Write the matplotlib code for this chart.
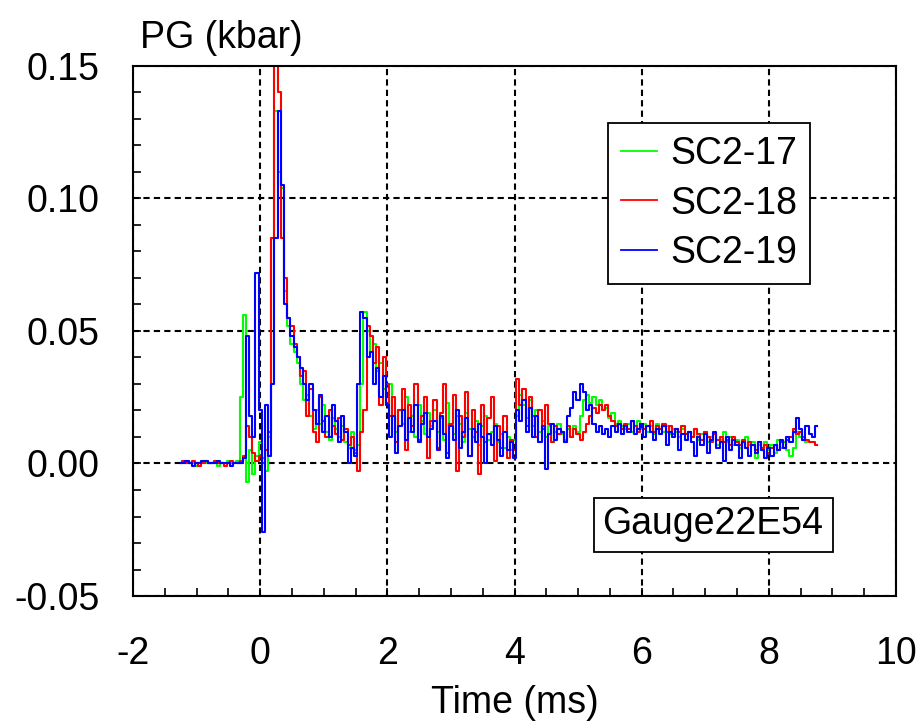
import numpy as np
import matplotlib
matplotlib.use("Agg")
import matplotlib.pyplot as plt
from matplotlib.ticker import MultipleLocator, FixedLocator, FuncFormatter

plt.rcParams['font.family'] = ['Liberation Sans', 'DejaVu Sans']
plt.rcParams['axes.unicode_minus'] = False

# sampling grid of the records (ms)
t_start = -1.25
t_step = 0.05

# pressure records, in 1e-3 kbar
sc2_17 = [
    0, 0, 1, 0, 0, -1, 0, 1, 0, 0, 0, 1, -1, 0, 0, 1, 0, 0, 1, 25,
    56, -7, 5, -4, 3, 8, 2, -3, 10, 85, 133, 110, 104, 65, 52, 45, 42, 38, 30, 24,
    26, 18, 13, 20, 15, 22, 12, 9, 17, 13, 10, 14, 8, 6, 12, 5, 7, 30, 57, 50,
    42, 45, 35, 38, 28, 22, 30, 18, 12, 20, 15, 25, 12, 18, 10, 22, 16, 11, 19, 14,
    20, 12, 17, 9, 23, 14, 11, 18, 15, 8, 19, 13, 10, 16, 7, 14, 18, 9, 12, 15,
    8, 11, 6, 10, 5, 9, 18, 26, 22, 17, 24, 14, 20, 12, 16, 10, 14, 8, 12, 15,
    11, 9, 13, 10, 14, 12, 18, 24, 26, 23, 25, 22, 24, 20, 21, 17, 19, 15, 16, 14,
    13, 15, 12, 14, 16, 13, 15, 12, 14, 11, 15, 13, 12, 14, 11, 13, 12, 10, 13, 11,
    12, 10, 13, 9, 11, 12, 8, 10, 11, 7, 9, 12, 8, 10, 7, 9, 6, 8, 10, 7,
    8, 2, 7, 5, 8, 5, 7, 4, 9, 6, 8, 5, 3, 6, 12, 10, 9, 8,
]
sc2_18 = [
    0, 1, 0, 0, 1, 0, -1, 0, 1, 0, 0, 1, 0, 0, -1, 0, 1, 0, 0, 1,
    3, 14, 10, 4, 1, 3, 0, 5, 12, 85, 150, 140, 85, 70, 55, 52, 45, 40, 33, 35,
    18, 28, 12, 8, 25, 16, 10, 20, 14, 11, 17, 9, 13, 7, 10, 4, -3, 12, 20, 52,
    48, 38, 44, 22, 40, 30, 18, 25, 8, 20, 28, 5, 22, 14, 30, 9, 18, 25, 2, 16,
    24, 6, 19, 30, 4, 15, 26, -3, 18, 10, 27, 3, 20, 12, -4, 22, 8, 17, 25, 1,
    14, 6, 18, 2, 9, 5, 32, 22, 28, 14, 25, 18, 10, 20, 13, 22, 15, 8, 14, 11,
    12, 8, 14, 10, 13, 11, 9, 12, 15, 18, 21, 19, 22, 20, 22, 18, 16, 14, 15, 13,
    15, 13, 16, 14, 12, 15, 13, 14, 16, 12, 14, 13, 15, 12, 14, 11, 13, 12, 14, 11,
    12, 10, 13, 11, 9, 12, 10, 8, 11, 9, 10, 8, 9, 7, 10, 8, 7, 9, 6, 8,
    7, 5, 8, 6, 7, 4, 6, 7, 5, 8, 6, 9, 10, 13, 11, 12, 10, 9, 8, 8, 7,
]
sc2_19 = [
    0, 0, 1, 0, -1, 0, 0, 1, 1, 0, 0, 0, 1, 0, 0, 0, -1, 0, 0, 0,
    2, 48, 18, 10, 72, 20, -26, 22, 3, 30, 85, 133, 105, 60, 55, 48, 44, 40, 36, 30,
    24, 30, 20, 15, 26, 12, 18, 10, 22, 16, 8, 18, 12, 0, 6, 3, 30, 57, 55, 40,
    42, 30, 36, 25, 33, 22, 10, 18, 4, 14, 20, 9, 17, 12, 22, 8, 15, 19, 10, 13,
    16, 5, 18, 11, 2, 14, 9, 20, 6, 12, 17, 3, 13, 8, 15, 10, 0, 11, 7, 14,
    9, 3, 12, 5, 8, 2, 20, 16, 24, 12, 21, 10, 18, 8, 14, -2, 11, 15, 9, 13,
    12, 8, 18, 21, 27, 24, 30, 27, 20, 22, 15, 12, 14, 11, 13, 10, 14, 12, 15, 11,
    14, 12, 16, 11, 13, 15, 10, 14, 12, 9, 13, 11, 14, 7, 12, 10, 13, 5, 11, 9,
    12, 8, 3, 10, 7, 11, 4, 9, 12, 6, 8, 1, 10, 5, 9, 7, 2, 8, 6, 3,
    7, 4, 8, 5, 2, 6, 3, 7, 5, 9, 6, 10, 8, 12, 17, 13, 9, 14, 11, 10, 14,
]
series_labels = ['SC2-17', 'SC2-18', 'SC2-19']
series_colors = ['#00ff00', '#ff0000', '#0000ff']

x_ticks = [-2, 0, 2, 4, 6, 8, 10]
y_ticks = [-0.05, 0.00, 0.05, 0.10, 0.15]

W, H = 921, 726
fig = plt.figure(figsize=(W / 100, H / 100), dpi=100)
L, R, T, B = 133, 896, 66, 596
ax = fig.add_axes([L / W, 1 - B / H, (R - L) / W, (B - T) / H])

for vals, lab, col in zip([sc2_17, sc2_18, sc2_19], series_labels, series_colors):
    v = np.array(vals, dtype=float) / 1000.0
    t = t_start + t_step * np.arange(len(v))
    ax.plot(t, v, color=col, lw=1.5, drawstyle='steps-mid', label=lab)

ax.set_xlim(-2, 10)
ax.set_ylim(-0.05, 0.15)
ax.xaxis.set_major_locator(FixedLocator(x_ticks))
ax.yaxis.set_major_locator(FixedLocator(y_ticks))
ax.xaxis.set_minor_locator(MultipleLocator(0.5))
ax.yaxis.set_minor_locator(MultipleLocator(0.01))
ax.xaxis.set_major_formatter(FuncFormatter(lambda v, p: f"{v:g}"))
ax.yaxis.set_major_formatter(FuncFormatter(lambda v, p: f"{v:.2f}"))

ax.tick_params(which='both', direction='in', top=False, right=False, width=1.2,
               labelsize=27, colors='black')
ax.tick_params(which='major', length=6)
ax.tick_params(which='minor', length=6)
ax.tick_params(axis='y', pad=24)
ax.tick_params(axis='x', pad=29)

ax.set_axisbelow(True)
ax.grid(True, which='major', color='black', lw=1.5, linestyle=(0, (3.0, 2.0)))
for s in ax.spines.values():
    s.set_linewidth(1.5)
    s.set_color('black')

leg = ax.legend(loc='upper left', bbox_to_anchor=((608 - L) / (R - L), (B - 123) / (B - T)),
                fontsize=27, frameon=True, fancybox=False, framealpha=1,
                edgecolor='black', handlelength=0.95, handletextpad=0.35,
                labelspacing=0.36, borderpad=0.35, borderaxespad=0)
leg.get_frame().set_linewidth(1.3)
for ln in leg.get_lines():
    ln.set_linewidth(1.3)

ax.text((713 - L) / (R - L), (B - 524.5) / (B - T), 'Gauge22E54', transform=ax.transAxes,
        ha='center', va='center', fontsize=27,
        bbox=dict(boxstyle='square,pad=0.24', facecolor='white', edgecolor='black', lw=1.3))

fig.text(140 / W, 1 - 48 / H, 'PG (kbar)', ha='left', va='baseline', fontsize=27)
fig.text((L + R) / 2 / W, 1 - 713 / H, 'Time (ms)', ha='center', va='baseline', fontsize=27)

fig.savefig('out.png', dpi=100)
